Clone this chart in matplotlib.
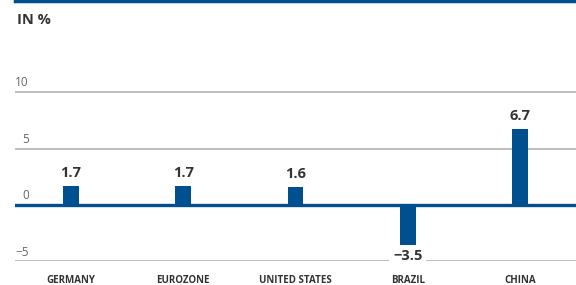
import matplotlib.pyplot as plt
from matplotlib.lines import Line2D

countries = ['GERMANY', 'EUROZONE', 'UNITED STATES', 'BRAZIL', 'CHINA']
growth = [1.7, 1.7, 1.6, -3.5, 6.7]
yticks = [-5, 0, 5, 10]

blue = '#00508f'
grey_text = '#666666'
dark = '#333333'

plt.rcParams['font.family'] = ['Open Sans', 'DejaVu Sans']

fig = plt.figure(figsize=(5.76, 2.85), dpi=100)
ax = fig.add_axes([0.026, 0.0825, 0.974, 0.7925])

x = list(range(len(countries)))
ax.bar(x, growth, width=0.14, color=blue, zorder=3)

ax.set_xlim(-0.5, 4.5)
ax.set_ylim(-5, 15)

# gridlines with labels sitting above them, right-aligned
for t in yticks:
    if t == 0:
        ax.axhline(0, color=blue, lw=2.4, zorder=4)
    else:
        ax.axhline(t, color='#b8b8b8', lw=1.3, zorder=1)
    lab = str(t).replace('-', '\u2212')
    ax.annotate(lab, xy=(0, t), xycoords=('axes fraction', 'data'),
                xytext=(10, 2), textcoords='offset points',
                ha='right', va='bottom', fontsize=8.5, color=grey_text)

# value labels
for xi, v in zip(x, growth):
    lab = ('%.1f' % v).replace('-', '\u2212')
    if v >= 0:
        ax.annotate(lab, xy=(xi, v), xytext=(0, 4.5), textcoords='offset points',
                    ha='center', va='bottom', fontsize=10.5, fontweight='bold', color=dark)
    else:
        ax.annotate(lab, xy=(xi, v), xytext=(0, -3), textcoords='offset points',
                    ha='center', va='top', fontsize=10.5, fontweight='bold', color=dark,
                    bbox=dict(boxstyle='square,pad=0.25', fc='white', ec='none'), zorder=5)

ax.set_xticks(x)
ax.set_xticklabels(countries, fontsize=7, fontweight='bold', color=dark)
ax.tick_params(axis='x', length=0, pad=10)
ax.set_yticks([])
for s in ax.spines.values():
    s.set_visible(False)

fig.text(0.03, 0.905, 'IN %', fontsize=10.5, fontweight='bold', color=dark, ha='left', va='bottom')
fig.add_artist(Line2D([0.026, 1.0], [0.997, 0.997], color=blue, lw=2.5,
                      transform=fig.transFigure))

fig.savefig('out.png', dpi=100)
